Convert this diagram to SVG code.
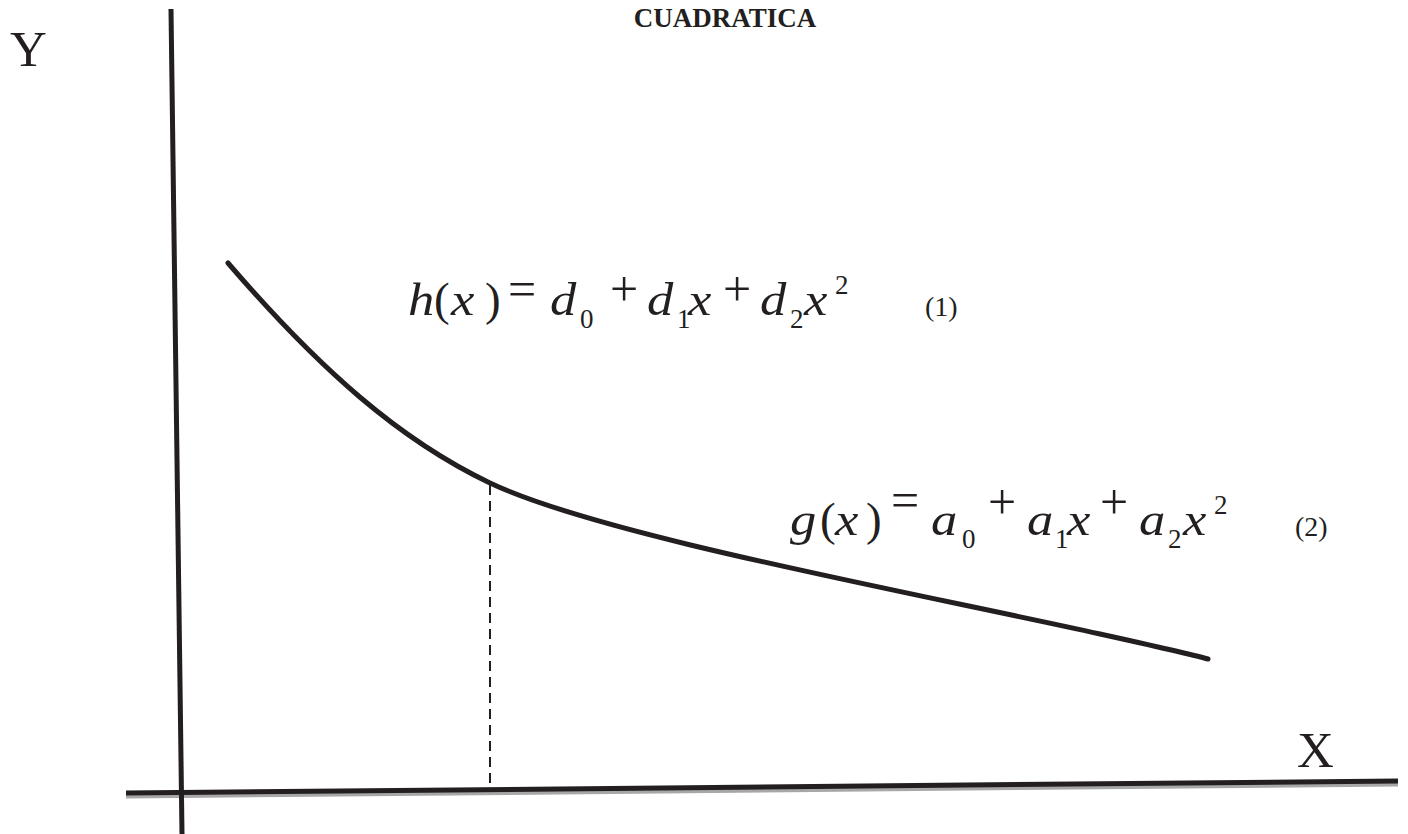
<svg xmlns="http://www.w3.org/2000/svg" width="1408" height="834" viewBox="0 0 1408 834">
<style>
.ax{stroke:#231f20;stroke-width:5;fill:none}
.sh{stroke:#a7a7a9;stroke-width:5;fill:none}
.cv{stroke:#231f20;stroke-width:5;fill:none;stroke-linecap:round}
.ds{stroke:#231f20;stroke-width:2;stroke-dasharray:10 6;fill:none}
.t{font-family:"Liberation Serif","Times New Roman",serif;fill:#231f20}
.i{font-style:italic}
.s{font-size:27px}
.n{font-size:28px}
.o{font-size:50px}
</style>
<rect width="1408" height="834" fill="#fff"/>
<text class="t" x="725" y="27" font-size="27" font-weight="bold" text-anchor="middle">CUADRATICA</text>
<g id="axes">
<line class="sh" x1="126" y1="796" x2="1398" y2="784"/>
<line class="ax" x1="126" y1="793" x2="1398" y2="781"/>
<line class="ax" x1="171" y1="9" x2="182" y2="834"/>
</g>
<text class="t" x="10" y="66" font-size="51">Y</text>
<text class="t" x="1297" y="767" font-size="51">X</text>
<g id="connectors">
<path class="cv" d="M228,263 C320,370 400,440 490,483 C600,535 900,590 1100,634 C1150,645 1190,654 1208,659"/>
<line class="ds" x1="490" y1="485" x2="490" y2="792"/>
</g>
<g id="eq1" class="t" font-size="47">
<text transform="translate(408,315) scale(1.12,1)" class="i">h</text>
<text x="434" y="315">(</text>
<text transform="translate(451,315) scale(1.12,1)" class="i">x</text>
<text x="485" y="315">)</text>
<text x="508" y="306" class="o">=</text>
<text transform="translate(550,315) scale(1.12,1)" class="i">d</text>
<text x="580" y="328" class="s">0</text>
<text x="610" y="306" class="o">+</text>
<text transform="translate(647,315) scale(1.12,1)" class="i">d</text>
<text x="677" y="328" class="s">1</text>
<text transform="translate(688,315) scale(1.12,1)" class="i">x</text>
<text x="723" y="306" class="o">+</text>
<text transform="translate(760,315) scale(1.12,1)" class="i">d</text>
<text x="790" y="328" class="s">2</text>
<text transform="translate(804,315) scale(1.12,1)" class="i">x</text>
<text x="835" y="294" class="s">2</text>
<text x="925" y="316" class="n">(1)</text>
</g>
<g id="eq2" class="t" font-size="47">
<text transform="translate(790,535) scale(1.12,1)" class="i">g</text>
<text x="820" y="535">(</text>
<text transform="translate(835,535) scale(1.12,1)" class="i">x</text>
<text x="866" y="535">)</text>
<text x="891" y="517" class="o">=</text>
<text transform="translate(931,535) scale(1.12,1)" class="i">a</text>
<text x="962" y="548" class="s">0</text>
<text x="988" y="519" class="o">+</text>
<text transform="translate(1027,535) scale(1.12,1)" class="i">a</text>
<text x="1055" y="548" class="s">1</text>
<text transform="translate(1067,535) scale(1.12,1)" class="i">x</text>
<text x="1100" y="519" class="o">+</text>
<text transform="translate(1139,535) scale(1.12,1)" class="i">a</text>
<text x="1168" y="548" class="s">2</text>
<text transform="translate(1183,535) scale(1.12,1)" class="i">x</text>
<text x="1214" y="514" class="s">2</text>
<text x="1295" y="536" class="n">(2)</text>
</g>
</svg>
